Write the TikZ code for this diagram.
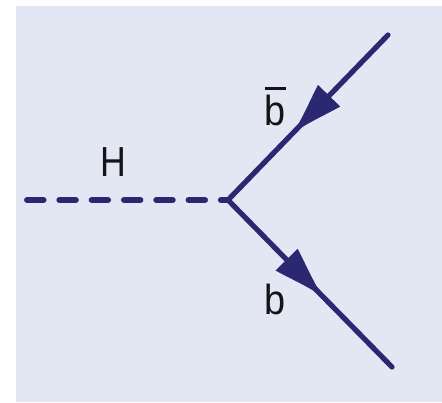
\documentclass[tikz,border=0pt]{standalone}
\usepackage{fontspec}
\setmainfont{Liberation Sans}
\usetikzlibrary{decorations.markings}
\definecolor{bgc}{RGB}{227,230,243}
\definecolor{ink}{RGB}{42,40,112}
\definecolor{txt}{RGB}{20,20,24}
\begin{document}
\begin{tikzpicture}[x=1pt,y=-1pt,
  fermion/.style={line width=5.2pt, draw=ink, line cap=round, postaction={decorate},
    decoration={markings, mark=at position #1 with {
      \fill[ink] (0pt,0pt) .. controls (-18pt,4pt) and (-36pt,11pt) .. (-51pt,15.5pt)
        -- (-51pt,-15.5pt) .. controls (-36pt,-11pt) and (-18pt,-4pt) .. (0pt,0pt) -- cycle;}}},
  higgs/.style={line width=6.5pt, draw=ink, line cap=round, dash pattern=on 16pt off 16.3pt},
  lbl/.style={text=txt, font=\fontsize{42}{42}\selectfont, inner sep=0pt}]
\useasboundingbox (0,0) rectangle (442,402);
\fill[bgc] (16,6) rectangle (442,402);
\coordinate (V) at (228,200);
\coordinate (U) at (388,35);
\coordinate (L) at (392,367);
\coordinate (S) at (27.3,200);
\draw[higgs] (S) -- (V);
\draw[fermion=0.59] (U) -- (V);
\draw[fermion=0.575] (V) -- (L);
\node[lbl] (h) at (113.3,161.7) {\scalebox{0.85}[1]{H}};
\node[lbl] (bbar) at (275.5,106.7) {\scalebox{0.9}[1]{\vbox{\hrule height 2.5pt\kern 6pt\hbox{b}}}};
\node[lbl] (b) at (275.2,299) {\scalebox{0.9}[1]{b}};
\end{tikzpicture}
\end{document}
